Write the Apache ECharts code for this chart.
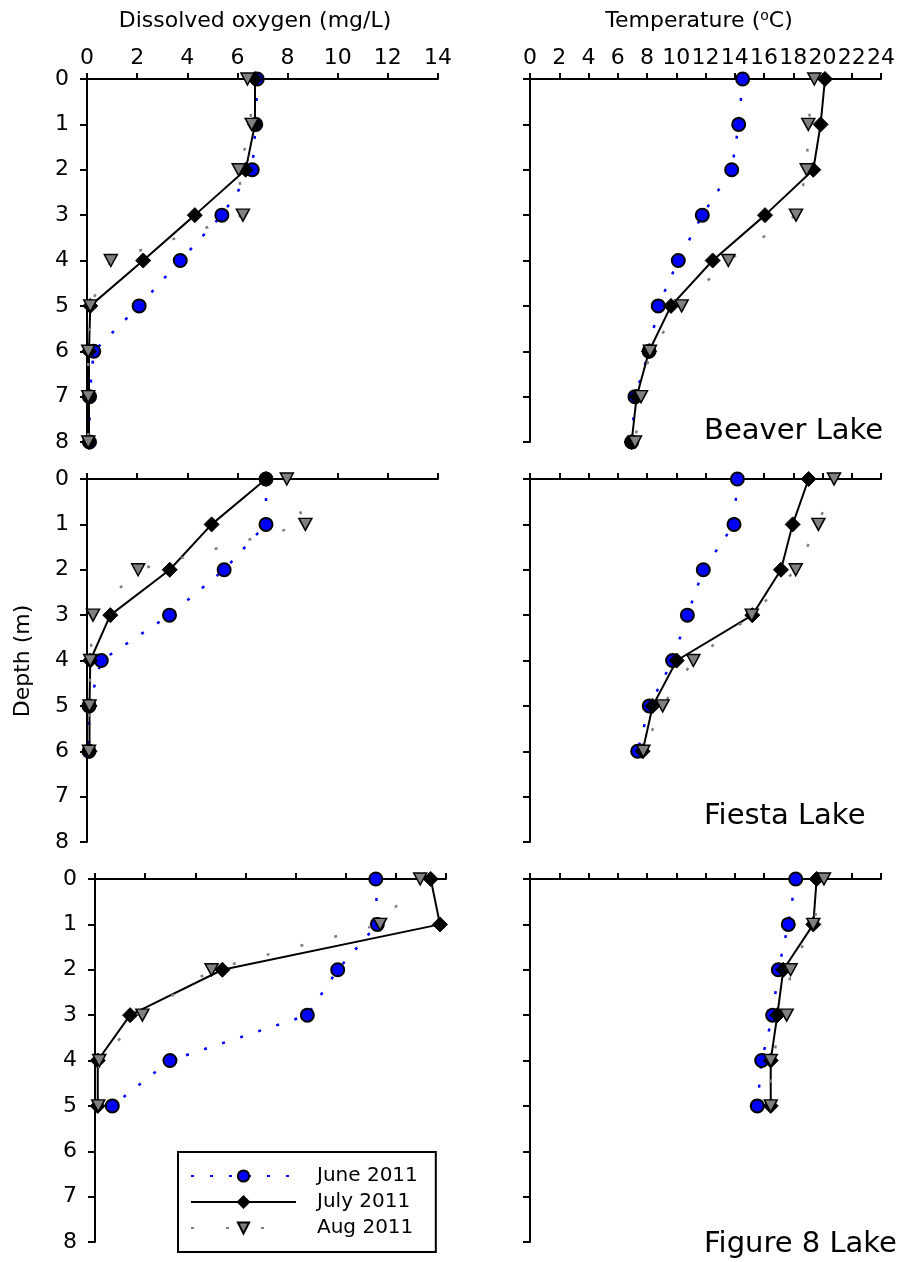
<!DOCTYPE html>
<html>
<head>
<meta charset="utf-8">
<script src="https://cdn.jsdelivr.net/npm/echarts@6/dist/echarts.min.js"></script>
<style>
html, body { margin: 0; padding: 0; background: #fff; }
#main { width: 899px; height: 1262px; }
</style>
</head>
<body>
<div id="main"></div>
<script>
// depth (m) for each sample, top to bottom
var depths = [0, 1, 2, 3, 4, 5, 6, 7, 8];
var depthTicks = [0, 1, 2, 3, 4, 5, 6, 7, 8];
var doTicks = [0, 2, 4, 6, 8, 10, 12, 14];
var tempTicks = [0, 2, 4, 6, 8, 10, 12, 14, 16, 18, 20, 22, 24];
var months = ['June 2011', 'July 2011', 'Aug 2011'];
var lakes = ['Beaver Lake', 'Fiesta Lake', 'Figure 8 Lake'];

// Beaver Lake
var beaverDoJune = [6.79, 6.73, 6.59, 5.38, 3.72, 2.08, 0.27, 0.10, 0.10];
var beaverDoJuly = [6.70, 6.70, 6.33, 4.30, 2.24, 0.13, 0.08, 0.08, 0.08];
var beaverDoAug = [6.40, 6.57, 6.05, 6.22, 0.95, 0.13, 0.05, 0.05, 0.05];
var beaverTempJune = [14.54, 14.27, 13.79, 11.78, 10.14, 8.77, 8.14, 7.18, 6.95];
var beaverTempJuly = [20.17, 19.87, 19.37, 16.07, 12.49, 9.64, 8.14, 7.29, 6.95];
var beaverTempAug = [19.44, 19.03, 18.92, 18.19, 13.56, 10.37, 8.20, 7.59, 7.18];

// Fiesta Lake
var fiestaDoJune = [7.14, 7.14, 5.47, 3.29, 0.57, 0.08, 0.08];
var fiestaDoJuly = [7.14, 4.97, 3.30, 0.93, 0.13, 0.10, 0.10];
var fiestaDoAug = [7.97, 8.71, 2.04, 0.24, 0.13, 0.10, 0.08];
var fiestaTempJune = [14.18, 13.95, 11.85, 10.76, 9.75, 8.16, 7.36];
var fiestaTempJuly = [19.05, 17.96, 17.16, 15.20, 10.03, 8.39, 7.70];
var fiestaTempAug = [20.79, 19.72, 18.17, 15.16, 11.17, 9.07, 7.75];

// Figure 8 Lake
var fig8DoJune = [11.20, 11.26, 9.68, 8.47, 2.99, 0.69];
var fig8DoJuly = [13.39, 13.76, 5.08, 1.40, 0.11, 0.11];
var fig8DoAug = [12.97, 11.37, 4.65, 1.89, 0.17, 0.13];
var fig8TempJune = [18.17, 17.66, 16.98, 16.59, 15.84, 15.54];
var fig8TempJuly = [19.60, 19.37, 17.32, 16.91, 16.46, 16.46];
var fig8TempAug = [20.10, 19.37, 17.82, 17.55, 16.46, 16.46];

var font = 'DejaVu Sans';

var dom = document.getElementById('main');
var myChart = echarts.init(dom);

// one panel = one grid; order: row by row, DO left, temp right
var panels = [
    {grid: {left: 87, top: 79}, ticks: doTicks, data: [beaverDoJune, beaverDoJuly, beaverDoAug]},
    {grid: {left: 530, top: 79}, ticks: tempTicks, data: [beaverTempJune, beaverTempJuly, beaverTempAug]},
    {grid: {left: 87, top: 479}, ticks: doTicks, data: [fiestaDoJune, fiestaDoJuly, fiestaDoAug]},
    {grid: {left: 530, top: 479}, ticks: tempTicks, data: [fiestaTempJune, fiestaTempJuly, fiestaTempAug]},
    {grid: {left: 95, top: 879}, ticks: doTicks, data: [fig8DoJune, fig8DoJuly, fig8DoAug]},
    {grid: {left: 530, top: 879}, ticks: tempTicks, data: [fig8TempJune, fig8TempJuly, fig8TempAug]}
];

// look of each month
var monthStyle = [
    {   // June: blue dotted, blue circles
        lineStyle: {color: '#0000ff', width: 2.5, type: [3, 16]},
        symbol: 'circle', symbolSize: 13, symbolRotate: 0,
        itemStyle: {color: '#0000ff', borderColor: '#000', borderWidth: 2}
    },
    {   // July: solid black, black diamonds
        lineStyle: {color: '#000', width: 2, type: 'solid'},
        symbol: 'diamond', symbolSize: [15, 15], symbolRotate: 0,
        itemStyle: {color: '#000', borderColor: '#000', borderWidth: 1}
    },
    {   // Aug: sparse grey dots, grey down triangles
        lineStyle: {color: '#808080', width: 2.5, type: [3, 32]},
        symbol: 'triangle', symbolSize: [13, 12], symbolRotate: 180,
        itemStyle: {color: '#808080', borderColor: '#000', borderWidth: 1.5}
    }
];

function toPoints(vals) {
    return vals.map(function (v, i) { return [v, depths[i]]; });
}

var grids = [], xAxes = [], yAxes = [], series = [];
panels.forEach(function (p, i) {
    var isLeft = i % 2 === 0;
    var ticks = p.ticks;
    grids.push({left: p.grid.left, top: p.grid.top, width: 351, height: 363, containLabel: false});
    xAxes.push({
        type: 'value',
        gridIndex: i,
        position: 'top',
        min: ticks[0],
        max: ticks[ticks.length - 1],
        interval: ticks[1] - ticks[0],
        axisLine: {show: true, onZero: false, lineStyle: {color: '#000', width: 2}},
        axisTick: {show: true, inside: false, length: 6, lineStyle: {color: '#000', width: 2}},
        axisLabel: {
            show: i < 2,
            margin: 10,
            color: '#000',
            fontSize: 22,
            fontFamily: font,
            hideOverlap: false
        },
        splitLine: {show: false}
    });
    yAxes.push({
        type: 'value',
        gridIndex: i,
        inverse: true,
        min: depthTicks[0],
        max: depthTicks[depthTicks.length - 1],
        interval: 1,
        axisLine: {show: true, onZero: false, lineStyle: {color: '#000', width: 2}},
        axisTick: {show: true, inside: false, length: 7, lineStyle: {color: '#000', width: 2}},
        axisLabel: {
            show: isLeft,
            margin: 18,
            color: '#000',
            fontSize: 22,
            fontFamily: font
        },
        splitLine: {show: false}
    });
    p.data.forEach(function (vals, m) {
        var st = monthStyle[m];
        series.push({
            name: months[m],
            type: 'line',
            xAxisIndex: i,
            yAxisIndex: i,
            data: toPoints(vals),
            clip: false,
            silent: true,
            animation: false,
            showSymbol: true,
            symbol: st.symbol,
            symbolSize: st.symbolSize,
            symbolRotate: st.symbolRotate,
            lineStyle: st.lineStyle,
            itemStyle: st.itemStyle,
            z: 2 + m
        });
    });
});

var option = {
    animation: false,
    backgroundColor: '#fff',
    grid: grids,
    xAxis: xAxes,
    yAxis: yAxes,
    series: series,
    legend: {
        data: months,
        orient: 'vertical',
        left: 178,
        top: 1152,
        padding: [14, 18, 14, 12],
        itemGap: 6,
        itemWidth: 105,
        itemHeight: 14,
        borderColor: '#000',
        borderWidth: 2,
        backgroundColor: '#fff',
        selectedMode: false,
        textStyle: {color: '#000', fontSize: 20, fontFamily: font, padding: [0, 0, 0, 16]}
    },
    graphic: [
        {type: 'text', x: 255, y: 21,
            style: {text: 'Dissolved oxygen (mg/L)', fill: '#000', font: '22px DejaVu Sans', align: 'center', verticalAlign: 'middle'}},
        {type: 'text', x: 699, y: 21,
            style: {text: 'Temperature ({sup|o}C)', fill: '#000', font: '22px DejaVu Sans', align: 'center', verticalAlign: 'middle',
                rich: {sup: {fontSize: 14, fontFamily: font, verticalAlign: 'top', padding: [0, 0, 10, 0], fill: '#000'}}}},
        {type: 'text', x: 23, y: 661, rotation: Math.PI / 2,
            style: {text: 'Depth (m)', fill: '#000', font: '22px DejaVu Sans', align: 'center', verticalAlign: 'middle'}},
        {type: 'text', x: 704, y: 431,
            style: {text: lakes[0], fill: '#000', font: '29px DejaVu Sans', align: 'left', verticalAlign: 'middle'}},
        {type: 'text', x: 704, y: 816,
            style: {text: lakes[1], fill: '#000', font: '29px DejaVu Sans', align: 'left', verticalAlign: 'middle'}},
        {type: 'text', x: 704, y: 1244,
            style: {text: lakes[2], fill: '#000', font: '29px DejaVu Sans', align: 'left', verticalAlign: 'middle'}}
    ]
};

if (option && typeof option === 'object') {
    myChart.setOption(option, true);
}
</script>
</body>
</html>
